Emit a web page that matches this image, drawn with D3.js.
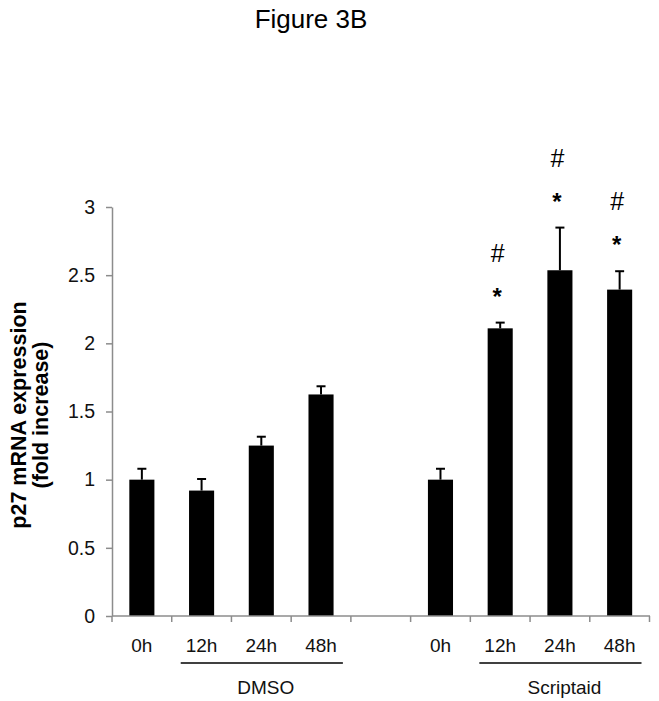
<!DOCTYPE html>
<html>
<head>
<meta charset="utf-8">
<script src="https://cdn.jsdelivr.net/npm/d3@7"></script>
<style>
  html, body { margin: 0; padding: 0; background: #fff; }
  svg { display: block; font-family: Arial, "Liberation Sans", sans-serif; }
</style>
</head>
<body>
<svg id="chart" width="659" height="701"></svg>
<script>
// ---- data ----
const slots = ["d0", "d12", "d24", "d48", "gap", "s0", "s12", "s24", "s48"];
const tickLabels = ["0h", "12h", "24h", "48h", "", "0h", "12h", "24h", "48h"];
const values = [1.0, 0.92, 1.25, 1.625, null, 1.0, 2.11, 2.536, 2.394];
const errors = [0.08, 0.085, 0.065, 0.06, null, 0.08, 0.042, 0.313, 0.135];
const starMarks = [false, false, false, false, false, false, true, true, true];
const hashMarks = [false, false, false, false, false, false, true, true, true];
const groupNames = ["DMSO", "Scriptaid"];
const groupFirst = ["d12", "s12"];
const groupLast = ["d48", "s48"];
const yTicks = [0, 0.5, 1, 1.5, 2, 2.5, 3];

// ---- layout ----
const svg = d3.select("#chart");
const axisColor = "#8c8c8c";
const x = d3.scaleBand().domain(slots).range([112, 649.5]).padding(0);
const y = d3.scaleLinear().domain([0, 3]).range([616, 207]);
const bw = x.bandwidth();
const barW = bw * 0.42;

// title
svg.append("text").attr("x", 311).attr("y", 28).attr("text-anchor", "middle")
  .attr("font-size", 26).attr("fill", "#000").text("Figure 3B");

// y axis
const yAxis = svg.append("g").attr("transform", "translate(112,0)")
  .call(d3.axisLeft(y).tickValues(yTicks).tickFormat(d => String(d)).tickSize(6).tickSizeOuter(0).tickPadding(11));
yAxis.select(".domain").attr("stroke", axisColor).attr("stroke-width", 1.5);
yAxis.selectAll(".tick line").attr("stroke", axisColor).attr("stroke-width", 1.5);
yAxis.selectAll(".tick text").attr("font-size", 19.5).attr("fill", "#111")
  .attr("font-family", "Arial, 'Liberation Sans', sans-serif");

// y axis title
const yt = svg.append("text").attr("transform", "translate(0,415) rotate(-90)")
  .attr("text-anchor", "middle").attr("font-weight", "bold").attr("font-size", 21.5).attr("fill", "#000");
yt.append("tspan").attr("x", 0).attr("y", 26).text("p27 mRNA expression");
yt.append("tspan").attr("x", 0).attr("y", 48).text("(fold increase)");

// bars
const data = slots.map((s, i) => ({ s, v: values[i], e: errors[i], star: starMarks[i], hash: hashMarks[i], label: tickLabels[i] }))
const barsData = data.filter(d => d.v !== null);

svg.append("g").selectAll("rect").data(barsData).join("rect")
  .attr("x", d => x(d.s) + bw / 2 - barW / 2)
  .attr("y", d => y(d.v))
  .attr("width", barW)
  .attr("height", d => y(0) - y(d.v))
  .attr("fill", "#000");

// error bars (upward only)
const eg = svg.append("g").attr("stroke", "#000").attr("stroke-width", 2);
eg.selectAll("line.stem").data(barsData).join("line").attr("class", "stem")
  .attr("x1", d => x(d.s) + bw / 2).attr("x2", d => x(d.s) + bw / 2)
  .attr("y1", d => y(d.v)).attr("y2", d => y(d.v + d.e));
eg.selectAll("line.cap").data(barsData).join("line").attr("class", "cap")
  .attr("x1", d => x(d.s) + bw / 2 - 4.5).attr("x2", d => x(d.s) + bw / 2 + 4.5)
  .attr("y1", d => y(d.v + d.e)).attr("y2", d => y(d.v + d.e));

// significance marks
svg.append("g").selectAll("text.star").data(barsData.filter(d => d.star)).join("text")
  .attr("class", "star")
  .attr("x", d => x(d.s) + bw / 2 - 3)
  .attr("y", d => y(d.v + d.e) - 30 + 12)
  .attr("text-anchor", "middle").attr("font-size", 24).attr("font-weight", "bold").attr("fill", "#000").text("*");
svg.append("g").selectAll("text.hash").data(barsData.filter(d => d.hash)).join("text")
  .attr("class", "hash")
  .attr("x", d => x(d.s) + bw / 2 - 2.5)
  .attr("y", d => y(d.v + d.e) - 70 + 9)
  .attr("text-anchor", "middle").attr("font-size", 25).attr("fill", "#000").text("#");

// x axis (ticks between categories)
const xg = svg.append("g").attr("stroke", axisColor).attr("stroke-width", 1.5);
xg.append("line").attr("x1", 112).attr("x2", 650).attr("y1", y(0)).attr("y2", y(0));
const boundaries = slots.map(s => x(s)).concat([x.range()[1]]);
xg.selectAll("line.xt").data(boundaries).join("line").attr("class", "xt")
  .attr("x1", d => d).attr("x2", d => d).attr("y1", y(0)).attr("y2", y(0) + 6);

svg.append("g").selectAll("text").data(data).join("text")
  .attr("x", d => x(d.s) + bw / 2).attr("y", 652)
  .attr("text-anchor", "middle").attr("font-size", 19).attr("fill", "#111")
  .text(d => d.label);

// group underlines and labels
groupNames.forEach((g, i) => {
  const x0 = x(groupFirst[i]) + 9;
  const x1 = x(groupLast[i]) + bw - 8;
  svg.append("line").attr("x1", x0).attr("x2", x1).attr("y1", 663).attr("y2", 663)
    .attr("stroke", "#000").attr("stroke-width", 1.5);
  svg.append("text").attr("x", (x0 + x1) / 2 + 4).attr("y", 694)
    .attr("text-anchor", "middle").attr("font-size", 19).attr("fill", "#111").text(g);
});
</script>
</body>
</html>
